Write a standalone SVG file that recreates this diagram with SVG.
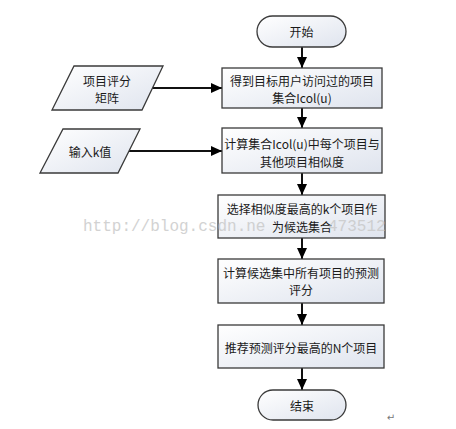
<svg xmlns="http://www.w3.org/2000/svg" width="456" height="429" viewBox="0 0 456 429">
<defs>
<linearGradient id="fill" x1="0" y1="0" x2="1" y2="1">
<stop offset="0" stop-color="#ffffff"/>
<stop offset="1" stop-color="#dfe4ee"/>
</linearGradient>
<marker id="arr" markerUnits="userSpaceOnUse" markerWidth="11" markerHeight="11" refX="11" refY="5" orient="auto">
<path d="M0,0 L11,5 L0,10 z" fill="#000"/>
</marker>
</defs>
<style>
.shape{fill:url(#fill);stroke:#3a3a3a;stroke-width:1.3}
.t{font-family:"Noto Sans CJK SC","Liberation Sans",sans-serif;font-size:12px;fill:#1a1a1a;text-anchor:middle;dominant-baseline:central}
.c{stroke:#111;stroke-width:2;fill:none;marker-end:url(#arr)}
.wm{font-family:"Liberation Mono",monospace;font-size:16px;fill:#c8c8c8;opacity:0.8}
</style>
<rect width="456" height="429" fill="#fff"/>
<g id="connectors">
<line class="c" x1="302" y1="47" x2="302" y2="68"/>
<line class="c" x1="302" y1="108" x2="302" y2="128"/>
<line class="c" x1="302" y1="173" x2="302" y2="195"/>
<line class="c" x1="302" y1="238" x2="302" y2="259"/>
<line class="c" x1="302" y1="303" x2="302" y2="325"/>
<line class="c" x1="302" y1="368" x2="302" y2="390"/>
<line class="c" x1="152" y1="88" x2="222" y2="88"/>
<line class="c" x1="129" y1="151" x2="222" y2="151"/>
</g>
<g id="start">
<rect class="shape" x="257" y="16" width="89" height="31" rx="15.5"/>
<text class="t" x="301.5" y="31.5">开始</text>
</g>
<g id="input-matrix">
<polygon class="shape" points="74,66 163,66 142,110 52,110"/>
<text class="t" x="107" y="80">项目评分</text>
<text class="t" x="107" y="97">矩阵</text>
</g>
<g id="input-k">
<polygon class="shape" points="63,129 140,129 118,173 40,173"/>
<text class="t" x="90" y="151">输入k值</text>
</g>
<g id="step1">
<rect class="shape" x="222" y="68" width="160" height="40"/>
<text class="t" x="302" y="80">得到目标用户访问过的项目</text>
<text class="t" x="302" y="97">集合Icol(u)</text>
</g>
<g id="step2">
<rect class="shape" x="222" y="128" width="160" height="45"/>
<text class="t" x="302" y="143">计算集合Icol(u)中每个项目与</text>
<text class="t" x="302" y="161">其他项目相似度</text>
</g>
<g id="step3">
<rect class="shape" x="218" y="195" width="167" height="43"/>
<text class="t" x="302" y="208">选择相似度最高的k个项目作</text>
<text class="t" x="302" y="226">为候选集合</text>
</g>
<g id="step4">
<rect class="shape" x="218" y="259" width="166" height="44"/>
<text class="t" x="301" y="272">计算候选集中所有项目的预测</text>
<text class="t" x="301" y="289">评分</text>
</g>
<g id="step5">
<rect class="shape" x="218" y="325" width="166" height="43"/>
<text class="t" x="301" y="347">推荐预测评分最高的N个项目</text>
</g>
<g id="end">
<rect class="shape" x="258" y="390" width="88" height="30" rx="15"/>
<text class="t" x="302" y="405">结束</text>
</g>
<text class="wm" x="83" y="231">http://blog.csdn.ne</text>
<text class="wm" x="328" y="231">473512</text>
<text x="391" y="421" font-family="DejaVu Sans,sans-serif" font-size="10" fill="#777" text-anchor="middle">↵</text>
</svg>
